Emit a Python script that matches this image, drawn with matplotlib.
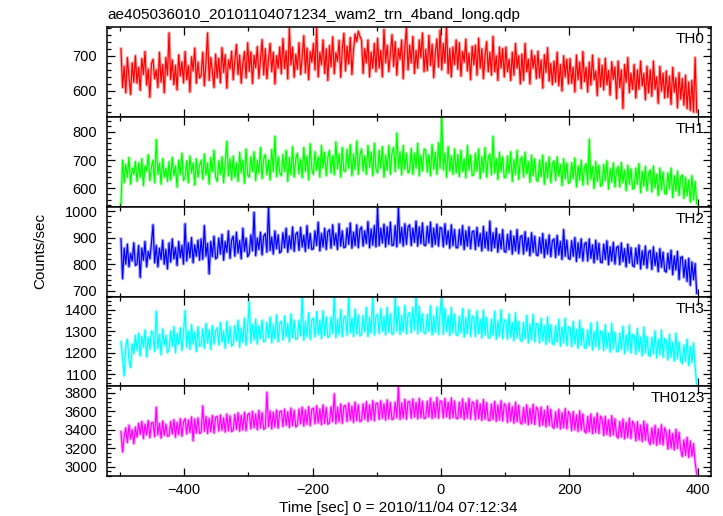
import numpy as np
import matplotlib
matplotlib.use('Agg')
import matplotlib.pyplot as plt
from matplotlib.ticker import MultipleLocator

plt.rcParams['font.family'] = ['Liberation Sans', 'DejaVu Sans']

# light curves, one value every 2.5 s from -498.75 s
t_first = -498.75
dt = 2.5

th0 = [720, 610, 670, 595, 695, 640, 590, 680, 625, 700,
       622, 667, 602, 692, 647, 712, 617, 662, 582, 677,
       690, 635, 660, 610, 710, 625, 675, 595, 695, 645,
       765, 633, 688, 618, 673, 603, 703, 643, 683, 623,
       712, 632, 672, 597, 697, 657, 722, 622, 682, 637,
       645, 710, 615, 680, 765, 630, 695, 655, 610, 705,
       638, 693, 623, 723, 653, 703, 608, 688, 663, 713,
       632, 687, 732, 647, 702, 622, 677, 712, 637, 737,
       656, 711, 621, 701, 666, 726, 636, 691, 746, 646,
       720, 635, 690, 735, 655, 710, 620, 700, 665, 725,
       649, 749, 664, 714, 634, 779, 674, 724, 639, 704,
       662, 737, 647, 697, 757, 652, 722, 632, 712, 682,
       735, 660, 780, 640, 710, 675, 745, 650, 720, 630,
       729, 669, 754, 649, 709, 684, 744, 639, 719, 764,
       657, 727, 677, 752, 647, 717, 762, 740, 770, 755,
       745, 650, 720, 680, 745, 640, 710, 665, 735, 655,
       750, 665, 715, 640, 775, 680, 730, 655, 705, 760,
       670, 740, 645, 720, 690, 745, 635, 725, 780, 660,
       730, 680, 755, 650, 715, 665, 745, 695, 765, 655,
       718, 658, 758, 673, 733, 638, 708, 748, 668, 773,
       660, 735, 680, 785, 650, 720, 640, 725, 675, 745,
       662, 737, 642, 712, 682, 747, 657, 707, 632, 727,
       675, 730, 645, 750, 665, 720, 635, 700, 740, 655,
       710, 645, 755, 655, 700, 630, 725, 665, 720, 640,
       725, 655, 690, 630, 710, 645, 735, 665, 700, 620,
       705, 630, 735, 655, 690, 620, 715, 665, 700, 635,
       713, 638, 688, 608, 703, 653, 723, 628, 678, 618,
       685, 625, 710, 615, 675, 600, 700, 640, 690, 620,
       692, 622, 667, 597, 702, 632, 682, 607, 712, 627,
       667, 597, 682, 617, 702, 632, 657, 587, 692, 612,
       673, 603, 693, 618, 658, 588, 683, 633, 668, 578,
       685, 610, 660, 550, 675, 625, 695, 595, 650, 605,
       675, 580, 660, 605, 685, 615, 650, 575, 670, 595,
       660, 585, 685, 605, 640, 565, 670, 600, 650, 580,
       657, 582, 642, 562, 667, 597, 637, 552, 652, 577,
       635, 560, 645, 550, 625, 545, 630, 540, 695, 540]

th1 = [545, 700, 620, 685, 640, 710, 615, 672, 650, 695,
       625, 690, 640, 705, 610, 680, 662, 720, 628, 675,
       700, 620, 773, 650, 690, 615, 705, 640, 672, 625,
       695, 630, 710, 645, 680, 605, 700, 650, 725, 628,
       640, 698, 620, 715, 655, 690, 612, 705, 640, 680,
       700, 632, 722, 648, 690, 615, 710, 660, 735, 640,
       625, 698, 650, 712, 620, 690, 767, 645, 705, 630,
       715, 640, 690, 625, 728, 655, 700, 618, 740, 648,
       640, 712, 660, 730, 628, 700, 655, 745, 635, 705,
       720, 648, 700, 630, 738, 660, 785, 642, 712, 655,
       645, 720, 660, 735, 625, 710, 650, 748, 640, 705,
       725, 652, 702, 638, 745, 660, 715, 630, 758, 668,
       650, 730, 665, 712, 640, 752, 672, 728, 645, 710,
       735, 655, 715, 648, 765, 670, 722, 640, 745, 662,
       660, 738, 672, 755, 645, 722, 668, 768, 650, 718,
       740, 662, 715, 650, 752, 675, 728, 645, 760, 668,
       655, 735, 672, 748, 640, 718, 665, 752, 650, 725,
       745, 660, 796, 672, 730, 648, 752, 668, 725, 655,
       665, 742, 650, 725, 672, 760, 645, 718, 662, 740,
       735, 658, 720, 645, 755, 668, 728, 650, 762, 672,
       860, 665, 725, 640, 748, 662, 715, 650, 740, 655,
       720, 642, 735, 660, 705, 638, 752, 665, 718, 645,
       650, 725, 662, 740, 635, 712, 658, 745, 640, 710,
       722, 648, 785, 655, 705, 632, 728, 660, 712, 638,
       640, 715, 655, 730, 625, 702, 650, 735, 632, 700,
       712, 640, 728, 652, 695, 622, 718, 645, 705, 630,
       625, 700, 642, 718, 615, 692, 638, 712, 620, 688,
       698, 628, 712, 645, 685, 610, 705, 635, 690, 618,
       622, 692, 635, 708, 605, 680, 630, 700, 612, 675,
       688, 615, 775, 632, 678, 600, 695, 625, 682, 608,
       612, 685, 628, 698, 598, 670, 622, 690, 605, 665,
       678, 605, 692, 620, 665, 592, 682, 615, 670, 598,
       600, 672, 615, 688, 585, 660, 608, 678, 592, 655,
       665, 588, 680, 602, 650, 575, 672, 595, 658, 582,
       580, 655, 598, 672, 568, 645, 590, 662, 575, 640,
       648, 565, 640, 575, 630, 552, 645, 560, 625, 545]

th2 = [895, 745, 860, 800, 875, 790, 840, 812, 880, 795,
       800, 870, 750, 860, 815, 885, 790, 848, 820, 878,
       948, 805, 870, 790, 860, 818, 890, 800, 855, 782,
       880, 808, 895, 820, 862, 795, 885, 825, 870, 800,
       952, 812, 880, 825, 900, 805, 872, 830, 890, 815,
       895, 818, 945, 830, 878, 763, 885, 828, 905, 820,
       825, 898, 838, 912, 815, 885, 845, 925, 822, 890,
       905, 830, 920, 842, 888, 820, 935, 848, 898, 828,
       840, 910, 850, 995, 832, 898, 855, 920, 835, 905,
       915, 845, 1016, 852, 902, 838, 925, 858, 910, 842,
       850, 918, 862, 935, 845, 905, 858, 940, 848, 912,
       920, 852, 938, 865, 908, 848, 945, 860, 915, 855,
       858, 925, 870, 958, 850, 915, 865, 935, 855, 922,
       930, 860, 948, 872, 915, 855, 952, 868, 925, 862,
       865, 935, 875, 955, 860, 920, 870, 948, 862, 930,
       940, 868, 925, 878, 960, 862, 932, 872, 945, 865,
       1010, 870, 935, 880, 950, 865, 940, 875, 958, 870,
       872, 945, 865, 1012, 880, 938, 868, 952, 875, 940,
       948, 870, 935, 882, 962, 868, 940, 878, 955, 872,
       870, 942, 880, 958, 865, 935, 875, 950, 868, 938,
       935, 865, 952, 875, 925, 860, 948, 870, 930, 862,
       862, 930, 872, 945, 855, 925, 868, 940, 858, 922,
       925, 855, 938, 868, 915, 850, 942, 862, 920, 852,
       962, 850, 918, 862, 935, 845, 912, 858, 930, 848,
       845, 912, 855, 925, 838, 905, 850, 930, 840, 902,
       908, 838, 922, 850, 898, 832, 918, 845, 905, 835,
       832, 900, 842, 915, 825, 892, 838, 910, 828, 888,
       895, 825, 908, 835, 885, 818, 930, 830, 890, 822,
       818, 888, 830, 900, 810, 880, 825, 895, 812, 875,
       882, 812, 895, 822, 872, 805, 890, 818, 878, 808,
       805, 875, 818, 888, 798, 865, 812, 882, 800, 862,
       868, 798, 880, 810, 858, 790, 875, 805, 862, 795,
       790, 860, 802, 872, 782, 850, 798, 868, 785, 845,
       852, 780, 865, 795, 842, 772, 858, 788, 845, 775,
       770, 840, 782, 852, 760, 830, 778, 848, 742, 825,
       828, 750, 815, 735, 822, 720, 808, 742, 802, 690]

th3 = [1250, 1175, 1092, 1230, 1262, 1165, 1130, 1240, 1195, 1280,
       1210, 1290, 1185, 1275, 1225, 1305, 1180, 1270, 1215, 1300,
       1290, 1205, 1392, 1220, 1285, 1190, 1310, 1235, 1280, 1200,
       1215, 1300, 1230, 1320, 1200, 1290, 1240, 1315, 1210, 1295,
       1395, 1225, 1300, 1215, 1330, 1240, 1295, 1205, 1320, 1230,
       1235, 1310, 1220, 1335, 1245, 1305, 1215, 1325, 1240, 1300,
       1315, 1235, 1340, 1250, 1300, 1220, 1345, 1245, 1320, 1230,
       1240, 1325, 1255, 1350, 1225, 1315, 1250, 1360, 1235, 1320,
       1438, 1245, 1330, 1260, 1355, 1240, 1325, 1265, 1350, 1250,
       1255, 1340, 1270, 1365, 1245, 1330, 1265, 1375, 1250, 1335,
       1345, 1260, 1370, 1275, 1335, 1250, 1380, 1270, 1350, 1262,
       1265, 1350, 1280, 1465, 1258, 1345, 1275, 1385, 1262, 1352,
       1360, 1272, 1390, 1285, 1350, 1265, 1395, 1280, 1365, 1270,
       1275, 1365, 1290, 1465, 1270, 1355, 1285, 1400, 1275, 1362,
       1370, 1280, 1465, 1292, 1360, 1275, 1402, 1288, 1375, 1278,
       1285, 1372, 1298, 1410, 1275, 1365, 1292, 1465, 1282, 1370,
       1378, 1288, 1405, 1300, 1368, 1282, 1410, 1295, 1380, 1285,
       1290, 1465, 1302, 1412, 1285, 1372, 1298, 1420, 1288, 1382,
       1385, 1292, 1410, 1305, 1465, 1288, 1415, 1298, 1380, 1290,
       1290, 1378, 1300, 1418, 1282, 1370, 1295, 1412, 1285, 1385,
       1465, 1285, 1405, 1298, 1372, 1280, 1410, 1292, 1378, 1282,
       1280, 1368, 1292, 1405, 1272, 1362, 1288, 1400, 1275, 1370,
       1365, 1275, 1395, 1288, 1355, 1268, 1398, 1282, 1362, 1270,
       1268, 1355, 1280, 1392, 1262, 1348, 1275, 1400, 1265, 1352,
       1350, 1262, 1380, 1272, 1340, 1255, 1385, 1268, 1345, 1258,
       1252, 1340, 1265, 1372, 1245, 1332, 1260, 1378, 1250, 1335,
       1332, 1245, 1360, 1255, 1325, 1238, 1365, 1250, 1330, 1240,
       1238, 1325, 1250, 1355, 1230, 1318, 1245, 1360, 1232, 1320,
       1315, 1228, 1345, 1240, 1308, 1220, 1350, 1235, 1312, 1222,
       1220, 1305, 1232, 1338, 1212, 1298, 1228, 1342, 1215, 1300,
       1298, 1210, 1330, 1222, 1290, 1202, 1335, 1218, 1295, 1205,
       1205, 1290, 1215, 1322, 1195, 1282, 1210, 1328, 1198, 1285,
       1280, 1192, 1312, 1205, 1272, 1185, 1318, 1198, 1275, 1188,
       1182, 1270, 1195, 1300, 1175, 1262, 1190, 1305, 1178, 1265,
       1255, 1165, 1285, 1178, 1248, 1160, 1290, 1172, 1250, 1162,
       1148, 1235, 1160, 1262, 1140, 1228, 1155, 1245, 1130, 1050]

th0123 = [3380, 3160, 3330, 3420, 3260, 3450, 3300, 3400, 3250, 3430,
          3320, 3470, 3350, 3490, 3305, 3460, 3345, 3500, 3315, 3475,
          3480, 3325, 3645, 3345, 3470, 3310, 3495, 3340, 3460, 3330,
          3335, 3490, 3355, 3510, 3320, 3480, 3350, 3520, 3330, 3485,
          3520, 3355, 3505, 3370, 3540, 3280, 3515, 3365, 3530, 3360,
          3370, 3660, 3385, 3545, 3360, 3525, 3380, 3555, 3365, 3535,
          3545, 3385, 3560, 3395, 3530, 3375, 3570, 3390, 3550, 3380,
          3395, 3565, 3405, 3585, 3385, 3555, 3400, 3590, 3390, 3560,
          3580, 3410, 3600, 3425, 3570, 3400, 3610, 3420, 3585, 3405,
          3420, 3807, 3435, 3605, 3410, 3590, 3430, 3615, 3418, 3595,
          3605, 3435, 3625, 3450, 3595, 3425, 3635, 3445, 3610, 3430,
          3450, 3625, 3465, 3645, 3440, 3615, 3460, 3650, 3445, 3620,
          3635, 3465, 3660, 3475, 3625, 3455, 3670, 3470, 3640, 3460,
          3475, 3650, 3490, 3790, 3468, 3645, 3485, 3680, 3470, 3655,
          3665, 3490, 3690, 3505, 3655, 3480, 3700, 3500, 3670, 3488,
          3500, 3680, 3515, 3705, 3492, 3670, 3510, 3715, 3498, 3685,
          3690, 3512, 3715, 3525, 3680, 3505, 3725, 3520, 3695, 3510,
          3520, 3700, 3530, 3862, 3512, 3690, 3528, 3730, 3515, 3705,
          3705, 3525, 3735, 3538, 3695, 3518, 3740, 3532, 3710, 3522,
          3530, 3710, 3540, 3745, 3522, 3700, 3535, 3750, 3525, 3712,
          3708, 3528, 3740, 3540, 3698, 3520, 3745, 3532, 3712, 3525,
          3520, 3700, 3532, 3735, 3512, 3690, 3528, 3740, 3515, 3702,
          3690, 3510, 3720, 3522, 3680, 3502, 3728, 3515, 3695, 3505,
          3500, 3678, 3512, 3708, 3492, 3668, 3505, 3715, 3495, 3682,
          3660, 3480, 3690, 3495, 3650, 3472, 3698, 3488, 3665, 3475,
          3462, 3640, 3475, 3670, 3455, 3632, 3470, 3675, 3458, 3645,
          3620, 3440, 3648, 3452, 3610, 3432, 3655, 3448, 3622, 3435,
          3415, 3595, 3428, 3622, 3408, 3585, 3422, 3630, 3410, 3598,
          3570, 3390, 3598, 3402, 3560, 3382, 3605, 3398, 3572, 3385,
          3365, 3545, 3378, 3572, 3358, 3535, 3372, 3580, 3360, 3548,
          3518, 3338, 3545, 3350, 3508, 3330, 3552, 3345, 3520, 3332,
          3310, 3490, 3322, 3518, 3302, 3480, 3318, 3525, 3305, 3492,
          3460, 3280, 3488, 3292, 3450, 3272, 3495, 3288, 3462, 3275,
          3240, 3420, 3252, 3448, 3232, 3410, 3248, 3455, 3235, 3422,
          3370, 3190, 3398, 3202, 3360, 3182, 3405, 3198, 3372, 3185,
          3110, 3290, 3122, 3318, 3100, 3280, 3115, 3250, 3050, 2920]

bands = ['TH0', 'TH1', 'TH2', 'TH3', 'TH0123']
curves = [th0, th1, th2, th3, th0123]
colors = ['#ff0000', '#00ff00', '#0000ff', '#00ffff', '#ff00ff']
ylims = [(526, 781), (535, 853), (678, 1016), (1043, 1461), (2899, 3872)]
ymajor = [100, 100, 100, 100, 200]
yminor = [20, 20, 20, 20, 50]

fig = plt.figure(figsize=(7.23, 5.16), dpi=100)
left, right = 107 / 723, 711 / 723
top, bottom = 1 - 27.3 / 516, 1 - 476 / 516
h = (top - bottom) / 5

for k, (name, y) in enumerate(zip(bands, curves)):
    ax = fig.add_axes([left, top - (k + 1) * h, right - left, h])
    x = t_first + dt * np.arange(len(y))
    # light halo like the error bars of the original, then the curve itself
    ax.plot(x, y, color=colors[k], lw=2.3, alpha=0.35)
    ax.plot(x, y, color=colors[k], lw=0.85)
    ax.set_xlim(-520.5, 421)
    ax.set_ylim(*ylims[k])
    ax.xaxis.set_major_locator(MultipleLocator(200))
    ax.xaxis.set_minor_locator(MultipleLocator(100))
    ax.yaxis.set_major_locator(MultipleLocator(ymajor[k]))
    ax.yaxis.set_minor_locator(MultipleLocator(yminor[k]))
    ax.tick_params(which='both', direction='in', top=True, right=True,
                   labelsize=10.5, width=0.9)
    ax.tick_params(which='major', length=6)
    ax.tick_params(which='minor', length=3)
    ax.tick_params(axis='y', pad=7)
    ax.tick_params(axis='x', pad=5)
    for s in ax.spines.values():
        s.set_linewidth(1.1)
    if k < 4:
        ax.tick_params(labelbottom=False)
    ax.text(1 - 6 / 604, 1 - 16 / 89.7, name, transform=ax.transAxes,
            ha='right', va='baseline', fontsize=11)

fig.text(107 / 723, 1 - 19 / 516,
         'ae405036010_20101104071234_wam2_trn_4band_long.qdp',
         ha='left', va='baseline', fontsize=11)
fig.text(40 / 723, 1 - 251 / 516, 'Counts/sec', rotation=90,
         ha='center', va='center', fontsize=11)
fig.text(398 / 723, 1 - 512 / 516, 'Time [sec] 0 = 2010/11/04 07:12:34',
         ha='center', va='baseline', fontsize=11)

fig.savefig('out.png', dpi=100)
